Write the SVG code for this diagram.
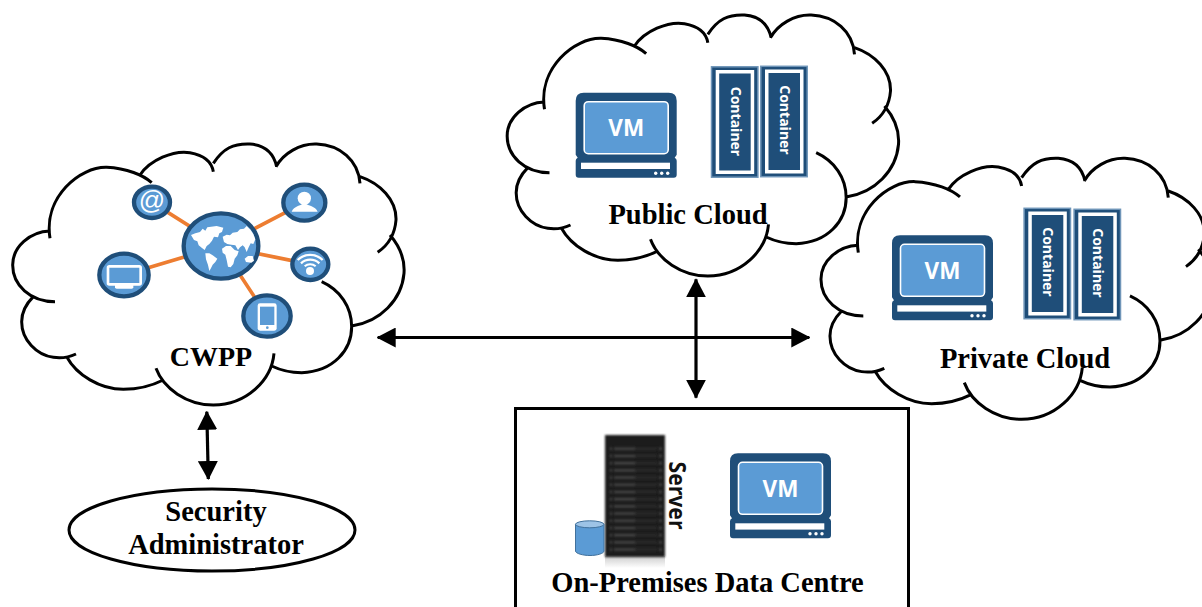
<svg xmlns="http://www.w3.org/2000/svg" xmlns:xlink="http://www.w3.org/1999/xlink" width="1202" height="607" viewBox="0 0 1202 607">
<style>
.lbl{font-family:"Liberation Serif","Times New Roman",serif;font-weight:bold;font-size:28.5px;fill:#000;text-anchor:middle}
.ico{font-family:"Open Sans","Liberation Sans",sans-serif;font-weight:700;fill:#fff;text-anchor:middle}
.cont{font-size:14px}
.ring{fill:#5b9bd5;stroke:#1f4e79;stroke-width:13}
.spoke{stroke:#ed7d31;stroke-width:11;fill:none}
.wh{fill:#fff}
.conn{stroke:#000;stroke-width:3.2;fill:none;marker-start:url(#ah);marker-end:url(#ah)}
</style>
<defs>
<marker id="ah" viewBox="0 0 19 20" refX="18" refY="10" markerWidth="19" markerHeight="20" markerUnits="userSpaceOnUse" orient="auto-start-reverse"><path d="M0 0L19 10L0 20Z" fill="#000"/></marker>
<path id="cloud" transform="scale(.33333)" fill="none" stroke="#000" stroke-width="9" d="M150 325C130 200 240 110 320 112C380 115 430 135 455 158M420 135C450 90 520 60 570 68C610 75 635 95 640 125M640 100C670 55 700 40 750 42C790 45 820 65 830 110M828 110C850 70 900 40 950 42C1020 45 1075 90 1080 160M1080 140C1140 160 1190 210 1188 270C1185 310 1165 345 1133 367M1170 315C1200 350 1215 390 1212 430C1205 510 1140 575 1058 587M965 455C1020 480 1055 530 1055 590C1055 660 1000 725 905 728C870 728 840 720 815 708M822 670C815 750 740 825 640 825C560 825 490 775 468 715M490 750C450 770 410 778 370 778C300 778 230 735 200 680M228 672C200 685 180 685 160 682C110 675 65 630 65 575C65 545 80 520 100 500M165 515C90 515 38 465 38 405C38 350 90 305 150 303"/>
<g id="vm">
<path fill="#1f4e79" d="M8 0H93Q101 0 101 8V62L99 65Q101 66 101 68V82Q101 85 98 85H3Q0 85 0 82V68Q0 66 2 65L0 62V8Q0 0 8 0Z"/>
<rect x="8.500" y="9" width="84" height="52" rx="4" fill="#5b9bd5" stroke="#fff" stroke-width="1.600"/>
<rect x="5.300" y="70" width="89" height="6.300" fill="#fff"/>
<circle cx="80" cy="80.500" r="1.700" fill="#fff"/><circle cx="86" cy="80.500" r="1.700" fill="#fff"/><circle cx="92" cy="80.500" r="1.700" fill="#fff"/>
<text class="ico" x="50.500" y="43.500" font-size="22.500">VM</text>
</g>
<g id="cbox">
<rect x=".8" y=".8" width="46.400" height="110.400" fill="#1f4e79" stroke="#6f95b8" stroke-width="1.500"/>
<rect x="5" y="4" width="38.500" height="104" fill="#fff"/>
<rect x="8.500" y="7.500" width="31.500" height="97" fill="#1f4e79"/>
</g>
<pattern id="rack" x="605" y="445" width="60" height="7.200" patternUnits="userSpaceOnUse">
<rect x="5" y="2.500" width="2" height="2.500" fill="#4a4a4a"/><rect x="9" y="2.500" width="21" height="2.500" fill="#454545"/><rect x="30" y="2.500" width="22" height="2.500" fill="#2a2a2a"/><rect x="54" y="2.500" width="3" height="2.500" fill="#444"/>
</pattern>
<filter id="soft" x="-10%" y="-10%" width="120%" height="120%"><feGaussianBlur stdDeviation=".8"/></filter>
<linearGradient id="refl" x1="0" y1="0" x2="0" y2="1"><stop offset="0" stop-color="#999" stop-opacity=".5"/><stop offset="1" stop-color="#999" stop-opacity="0"/></linearGradient>
</defs>

<g id="connectors">
<path class="conn" d="M377.700 337.500H809.300"/>
<path class="conn" d="M696 279.300V397.700"/>
<path class="conn" d="M206.800 411.700L208.300 479"/>
</g>

<g id="cwpp">
<use xlink:href="#cloud" href="#cloud" transform="translate(0 130)"/>
<g transform="translate(90 170) scale(.33333)">
<path class="spoke" d="M393 228L186 97M393 228L643 98M393 228L661 283M393 228L102 315M393 228L531 438"/>
<ellipse class="ring" cx="393" cy="228" rx="112" ry="98"/>
<path class="wh" d="M303 195L316 190L330 186L338 176L346 182L352 172L380 168L400 173L396 186L388 190L384 202L372 200L366 212L358 222L350 228L344 240L336 234L326 226L322 214L312 210Z"/>
<path class="wh" d="M346 250L358 250L368 256L382 266L376 276L368 284L362 296L358 303L354 285L348 268Z"/>
<path class="wh" d="M398 200L410 194L420 196L428 188L442 186L450 178L462 176L470 168L482 180L490 192L496 208L490 222L482 220L476 232L470 246L464 232L458 226L450 232L444 240L436 226L424 224L412 222L402 216Z"/>
<path class="wh" d="M396 236L408 228L422 228L434 240L446 244L442 256L434 266L430 282L422 292L414 290L410 270L406 254L398 248Z"/>
<path class="wh" d="M464 266L474 258L488 258L492 272L484 278L468 276Z"/>
<ellipse class="ring" cx="186" cy="97" rx="54" ry="47"/>
<ellipse class="ring" cx="643" cy="98" rx="63" ry="54"/>
<ellipse class="ring" cx="661" cy="283" rx="54" ry="47"/>
<ellipse class="ring" cx="102" cy="315" rx="74" ry="64"/>
<ellipse class="ring" cx="531" cy="438" rx="71" ry="62"/>
<text x="186" y="118" font-family="'Liberation Sans',Arial,sans-serif" font-size="78" fill="#fff" text-anchor="middle">@</text>
<circle class="wh" cx="643" cy="85" r="20"/><path class="wh" d="M605 125C612 108 632 108 640 100H646C654 108 676 108 683 125Z"/>
<path fill="none" stroke="#fff" stroke-width="7" d="M623 270A54 54 0 0 1 698 270M633 280A40 40 0 0 1 688 280"/>
<path fill="none" stroke="#fff" stroke-width="6" d="M644 289A24 24 0 0 1 677 289"/>
<circle class="wh" cx="660" cy="303" r="12"/>
<rect x="54" y="289" width="98" height="54" rx="4" fill="#5b9bd5" stroke="#fff" stroke-width="8"/>
<path class="wh" d="M75 345H130V352Q130 356 125 356H80Q75 356 75 352Z"/>
<rect x="503" y="400" width="57" height="82" rx="7" fill="#fff"/><rect x="510" y="410" width="43" height="55" fill="#5b9bd5"/><circle cx="532" cy="473" r="4" fill="#5b9bd5"/>
</g>
<text class="lbl" x="211" y="366" style="font-size:28px">CWPP</text>
</g>

<g id="public-cloud">
<use xlink:href="#cloud" href="#cloud" transform="translate(494.500 1)"/>
<use xlink:href="#vm" href="#vm" x="575.700" y="92.700"/>
<use xlink:href="#cbox" href="#cbox" x="710.700" y="66"/>
<use xlink:href="#cbox" href="#cbox" x="760" y="65.500"/>
<text class="ico cont" transform="translate(730.500 121.500) rotate(90)">Container</text>
<text class="ico cont" transform="translate(779.500 120) rotate(90)">Container</text>
<text class="lbl" x="688" y="224">Public Cloud</text>
</g>

<g id="private-cloud">
<use xlink:href="#cloud" href="#cloud" transform="translate(808.300 144.300)"/>
<use xlink:href="#vm" href="#vm" x="892" y="235.300"/>
<use xlink:href="#cbox" href="#cbox" x="1023.300" y="207.500"/>
<use xlink:href="#cbox" href="#cbox" x="1073.300" y="208.500"/>
<text class="ico cont" transform="translate(1042.800 262) rotate(90)">Container</text>
<text class="ico cont" transform="translate(1093.200 263) rotate(90)">Container</text>
<text class="lbl" x="1025" y="367.500">Private Cloud</text>
</g>

<g id="on-premises">
<path fill="none" stroke="#000" stroke-width="3" d="M515.500 607V408.500H908.500V607"/>
<rect x="605" y="556" width="60" height="12" fill="url(#refl)"/>
<rect x="605" y="435" width="60" height="122" fill="#1e1e1e" filter="url(#soft)"/>
<rect x="605" y="445" width="60" height="108" fill="url(#rack)" filter="url(#soft)"/>
<path d="M575.500 524.300V551C575.500 553.500 583 555.500 590 555.500S604 553.500 604 551V524.300Z" fill="#5b9bd5" stroke="#41719c" stroke-width="1"/>
<ellipse cx="589.700" cy="524.300" rx="14.200" ry="3.500" fill="#9dc3e6" stroke="#41719c" stroke-width="1"/>
<text transform="translate(668.500 495.500) rotate(90)" font-family="'Open Sans','Liberation Sans',sans-serif" font-weight="700" font-size="24" text-anchor="middle" fill="#111" textLength="68" lengthAdjust="spacingAndGlyphs">Server</text>
<use xlink:href="#vm" href="#vm" x="730" y="453.300"/>
<text class="lbl" x="707.500" y="592">On-Premises Data Centre</text>
</g>

<g id="security-admin">
<ellipse cx="212" cy="530" rx="143" ry="41" fill="#fff" stroke="#000" stroke-width="3"/>
<text class="lbl" x="216" y="520.700">Security</text>
<text class="lbl" x="216" y="554">Administrator</text>
</g>
</svg>
